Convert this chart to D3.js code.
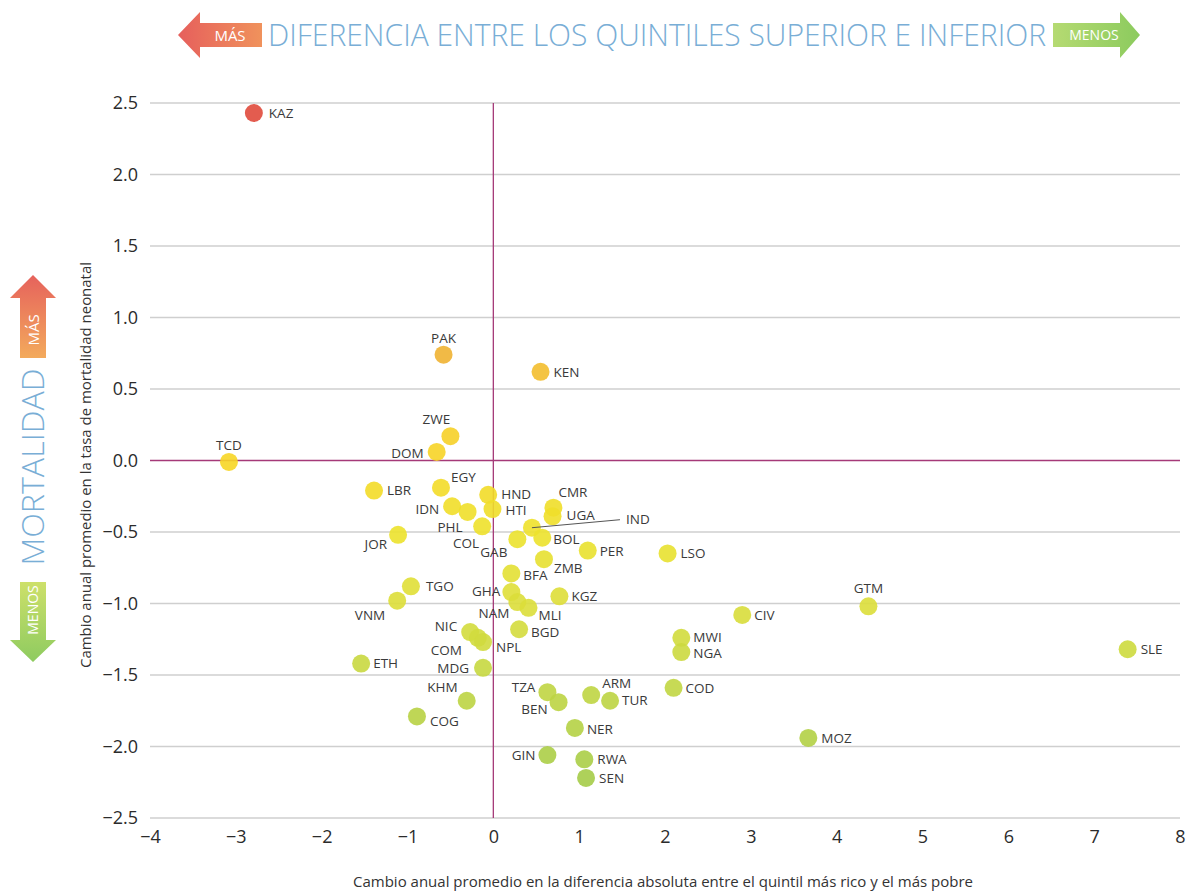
<!DOCTYPE html>
<html>
<meta charset="utf-8" />
<head>
<title>Mortalidad neonatal vs diferencia entre quintiles</title>
<script src="https://cdn.jsdelivr.net/npm/d3@7"></script>
<style>
	body { margin: 0; background: #fff; }
	text { font-family: "Open Sans", "Noto Sans", sans-serif; }
</style>
<script>

// country codes, x = change in rich-poor gap, y = change in neonatal mortality
const codes = ["KAZ","PAK","KEN","ZWE","DOM","TCD","LBR","EGY","IDN","PHL","COL","HND","HTI","CMR","UGA","IND","GAB","BOL","ZMB","PER","LSO","JOR","BFA","TGO","VNM","GHA","NAM","MLI","KGZ","BGD","NIC","COM","NPL","ETH","MDG","KHM","COG","TZA","BEN","ARM","TUR","NER","GIN","RWA","SEN","MOZ","COD","MWI","NGA","CIV","GTM","SLE"];
const xVals = [-2.79,-0.58,0.55,-0.50,-0.66,-3.08,-1.39,-0.61,-0.48,-0.30,-0.13,-0.06,-0.01,0.70,0.69,0.45,0.28,0.57,0.59,1.10,2.03,-1.11,0.21,-0.96,-1.12,0.21,0.28,0.41,0.77,0.30,-0.27,-0.18,-0.12,-1.54,-0.12,-0.31,-0.89,0.63,0.76,1.14,1.36,0.95,0.63,1.06,1.08,3.67,2.10,2.19,2.19,2.90,4.37,7.39];
const yVals = [2.43,0.74,0.62,0.17,0.06,-0.01,-0.21,-0.19,-0.32,-0.36,-0.46,-0.24,-0.34,-0.33,-0.39,-0.47,-0.55,-0.54,-0.69,-0.63,-0.65,-0.52,-0.79,-0.88,-0.98,-0.92,-0.99,-1.03,-0.95,-1.18,-1.20,-1.24,-1.27,-1.42,-1.45,-1.68,-1.79,-1.62,-1.69,-1.64,-1.68,-1.87,-2.06,-2.09,-2.22,-1.94,-1.59,-1.24,-1.34,-1.08,-1.02,-1.32];

const xTicks = [-4,-3,-2,-1,0,1,2,3,4,5,6,7,8];
const yTicks = [2.5,2.0,1.5,1.0,0.5,0.0,-0.5,-1.0,-1.5,-2.0,-2.5];

// label placement: [dx, dy, anchor] relative to the dot
const labelPlace = {
	KAZ:[15,0,"start"], PAK:[0,-16,"middle"], KEN:[13,0,"start"], ZWE:[-14,-17,"middle"],
	DOM:[-13,1,"end"], TCD:[0,-17,"middle"], LBR:[13,0,"start"], EGY:[10,-10,"start"],
	IDN:[-13,3,"end"], PHL:[-5,15,"end"], COL:[-3,17,"end"], HND:[13,-1,"start"],
	HTI:[13,1,"start"], CMR:[5,-15,"start"], UGA:[14,-1,"start"], GAB:[-10,13,"end"],
	BOL:[11,2,"start"], ZMB:[10,9,"start"], PER:[12,1,"start"], LSO:[13,0,"start"],
	JOR:[-11,9,"end"], BFA:[12,2,"start"], TGO:[15,0,"start"], VNM:[-12,15,"end"],
	GHA:[-11,-1,"end"], NAM:[-8,11,"end"], MLI:[10,7,"start"], KGZ:[12,0,"start"],
	BGD:[12,3,"start"], NIC:[-13,-6,"end"], COM:[-16,12,"end"], NPL:[13,5,"start"],
	ETH:[12,0,"start"], MDG:[-14,0,"end"], KHM:[-9,-13,"end"], COG:[13,5,"start"],
	TZA:[-12,-5,"end"], BEN:[-11,7,"end"], ARM:[11,-12,"start"], TUR:[12,0,"start"],
	NER:[12,1,"start"], GIN:[-12,0,"end"], RWA:[13,0,"start"], SEN:[13,0,"start"],
	MOZ:[13,0,"start"], COD:[12,0,"start"], MWI:[12,-1,"start"], NGA:[12,1,"start"],
	CIV:[12,0,"start"], GTM:[0,-18,"middle"], SLE:[13,0,"start"]
};

window.onload = function() {
	const W = 1187, H = 891;
	const svg = d3.select("svg").attr("width", W).attr("height", H);
	const defs = svg.append("defs");

	const x = d3.scaleLinear().domain([-4, 8]).range([150, 1180]);
	const y = d3.scaleLinear().domain([-2.5, 2.5]).range([818, 103]);

	// dot colour follows mortality change
	const color = d3.scaleLinear()
		.domain([2.45, 0.74, 0.6, 0, -0.5, -1.0, -1.5, -2.2])
		.range(["#e0493c","#f0b232","#f3c02d","#f7d626","#ede22b","#dcde3a","#c5d741","#a6cc48"]);

	function grad(id, x1, y1, x2, y2, c1, c2) {
		const g = defs.append("linearGradient").attr("id", id)
			.attr("x1", x1).attr("y1", y1).attr("x2", x2).attr("y2", y2);
		g.append("stop").attr("offset", "0%").attr("stop-color", c1);
		g.append("stop").attr("offset", "100%").attr("stop-color", c2);
	}
	grad("gLeft", "0%", "0%", "100%", "0%", "#e65f5c", "#f0925c");
	grad("gRight", "0%", "0%", "100%", "0%", "#b5da72", "#8ccb5e");
	grad("gUp", "0%", "0%", "0%", "100%", "#e6625c", "#f3aa5c");
	grad("gDown", "0%", "0%", "0%", "100%", "#cde06a", "#8ecb60");

	// gridlines
	svg.append("g").selectAll("line").data(yTicks).enter().append("line")
		.attr("x1", 150).attr("x2", 1180)
		.attr("y1", d => y(d)).attr("y2", d => y(d))
		.style("stroke", d => d === 0 ? "none" : "#cfcfcf")
		.style("stroke-width", "1.5px");

	// zero lines
	svg.append("line").attr("x1", 150).attr("x2", 1180).attr("y1", y(0)).attr("y2", y(0))
		.style("stroke", "#a53a78").style("stroke-width", "1.3px");
	svg.append("line").attr("x1", x(0)).attr("x2", x(0)).attr("y1", y(2.5)).attr("y2", y(-2.5))
		.style("stroke", "#a53a78").style("stroke-width", "1.3px");

	// axes (labels only)
	const yAxis = svg.append("g").attr("transform", "translate(150,0)")
		.call(d3.axisLeft(y).tickValues(yTicks).tickFormat(d3.format(".1f")).tickSize(0).tickPadding(12));
	const xAxis = svg.append("g").attr("transform", "translate(0,818)")
		.call(d3.axisBottom(x).tickValues(xTicks).tickFormat(d3.format("d")).tickSize(0).tickPadding(12));
	[xAxis, yAxis].forEach(a => {
		a.select(".domain").remove();
		a.selectAll("text").style("font-size", "18px").style("fill", "#2b2b2b")
			.style("font-family", "'Open Sans', sans-serif");
	});

	const pts = codes.map((c, i) => ({ code: c, x: xVals[i], y: yVals[i] }));
	const ind = pts.find(p => p.code === "IND");

	svg.append("g").selectAll("circle").data(pts).enter().append("circle")
		.attr("cx", d => x(d.x)).attr("cy", d => y(d.y)).attr("r", 9)
		.style("fill", d => color(d.y)).style("opacity", 0.9);

	// IND leader line
	svg.append("line").attr("x1", x(ind.x)).attr("y1", y(ind.y))
		.attr("x2", x(ind.x) + 88).attr("y2", y(ind.y) - 8)
		.style("stroke", "#555").style("stroke-width", "1px");

	svg.append("g").selectAll("text").data(pts).enter().append("text")
		.attr("x", d => d.code === "IND" ? x(d.x) + 94 : x(d.x) + labelPlace[d.code][0])
		.attr("y", d => d.code === "IND" ? y(d.y) - 8 : y(d.y) + labelPlace[d.code][1])
		.attr("dy", "0.35em")
		.attr("text-anchor", d => d.code === "IND" ? "start" : labelPlace[d.code][2])
		.style("font-size", "13.5px").style("fill", "#3a3a3a")
		.text(d => d.code);

	// axis titles
	svg.append("text").attr("x", 663).attr("y", 887).attr("text-anchor", "middle")
		.attr("textLength", 620).attr("lengthAdjust", "spacingAndGlyphs")
		.style("font-size", "14.5px").style("fill", "#333")
		.text("Cambio anual promedio en la diferencia absoluta entre el quintil más rico y el más pobre");
	svg.append("text").attr("transform", "translate(91,465) rotate(-90)").attr("text-anchor", "middle")
		.attr("textLength", 406).attr("lengthAdjust", "spacingAndGlyphs")
		.style("font-size", "14.5px").style("fill", "#333")
		.text("Cambio anual promedio en la tasa de mortalidad neonatal");

	// header arrows
	svg.append("path").attr("d", "M178,35 L200,12 L200,23 L262,23 L262,47 L200,47 L200,58 Z")
		.style("fill", "url(#gLeft)");
	svg.append("text").attr("x", 230).attr("y", 41).attr("text-anchor", "middle")
		.style("font-size", "15px").style("fill", "#fff").text("MÁS");
	svg.append("path").attr("d", "M1140,35 L1120,12 L1120,23 L1053,23 L1053,47 L1120,47 L1120,58 Z")
		.style("fill", "url(#gRight)");
	svg.append("text").attr("x", 1094).attr("y", 40).attr("text-anchor", "middle")
		.style("font-size", "14px").style("fill", "#fff").text("MENOS");
	svg.append("text").attr("x", 268).attr("y", 46)
		.attr("textLength", 778).attr("lengthAdjust", "spacingAndGlyphs")
		.style("font-size", "31px").style("font-weight", 300).style("fill", "#79aed6")
		.text("DIFERENCIA ENTRE LOS QUINTILES SUPERIOR E INFERIOR");

	// side arrows
	svg.append("path").attr("d", "M33,275 L56,298 L46,298 L46,358 L20,358 L20,298 L10,298 Z")
		.style("fill", "url(#gUp)");
	svg.append("text").attr("transform", "translate(39,330) rotate(-90)").attr("text-anchor", "middle")
		.style("font-size", "15px").style("fill", "#fff").text("MÁS");
	svg.append("path").attr("d", "M33,662 L56,640 L46,640 L46,582 L20,582 L20,640 L10,640 Z")
		.style("fill", "url(#gDown)");
	svg.append("text").attr("transform", "translate(38,610) rotate(-90)").attr("text-anchor", "middle")
		.style("font-size", "14px").style("fill", "#fff").text("MENOS");
	svg.append("text").attr("transform", "translate(44,467) rotate(-90)").attr("text-anchor", "middle")
		.attr("textLength", 197).attr("lengthAdjust", "spacingAndGlyphs")
		.style("font-size", "31px").style("font-weight", 300).style("fill", "#79aed6")
		.text("MORTALIDAD");
}

</script>
</head>
<body>
	<svg></svg>
</body>
</html>
